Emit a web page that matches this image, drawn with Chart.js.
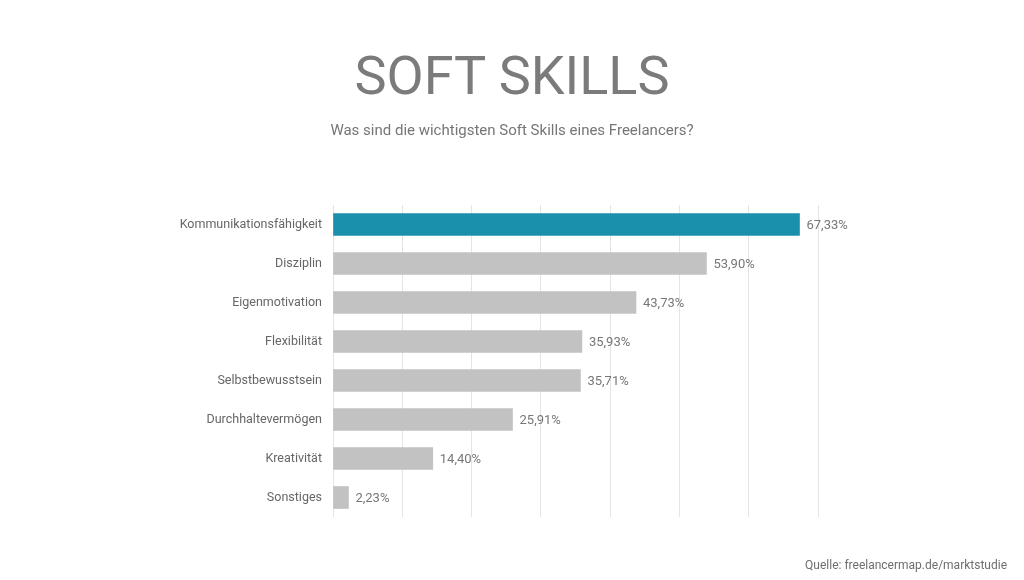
<!DOCTYPE html>
<html>
<head>
<meta charset="utf-8">
<script src="https://cdn.jsdelivr.net/npm/chart.js@4/dist/chart.umd.min.js"></script>
<style>
    html, body { margin: 0; padding: 0; background: #fff; }
    #wrap { position: relative; width: 1024px; height: 580px; font-family: Roboto, sans-serif; }
    #title { position: absolute; left: 0; width: 1024px; top: 49px; text-align: center;
        font-size: 54px; line-height: 54px; color: #7b7b7b; }
    #subtitle { position: absolute; left: 0; width: 1024px; top: 123px; text-align: center;
        font-size: 15px; line-height: 15px; color: #767676; }
    #source { position: absolute; right: 17px; top: 559px; font-size: 12px; line-height: 12px; color: #6e6e6e; }
    #chart { position: absolute; left: 0; top: 0; }
</style>
</head>
<body>
<div id="wrap">
    <canvas id="chart" width="1024" height="580"></canvas>
    <div id="title">SOFT SKILLS</div>
    <div id="subtitle">Was sind die wichtigsten Soft Skills eines Freelancers?</div>
    <div id="source">Quelle: freelancermap.de/marktstudie</div>
</div>
<script>
'use strict';

const skills = ['Kommunikationsfähigkeit', 'Disziplin', 'Eigenmotivation', 'Flexibilität',
    'Selbstbewusstsein', 'Durchhaltevermögen', 'Kreativität', 'Sonstiges'];
const shares = [67.33, 53.90, 43.73, 35.93, 35.71, 25.91, 14.40, 2.23];
const axisMax = 70;

// first bar highlighted, rest gray
const barColors = shares.map((v, i) => i === 0 ? '#1b90ac' : '#c2c2c2');

const valueLabels = {
    id: 'valueLabels',
    afterDatasetsDraw(chart) {
        const ctx = chart.ctx;
        const meta = chart.getDatasetMeta(0);
        ctx.save();
        ctx.font = '13px Roboto, sans-serif';
        ctx.fillStyle = '#777777';
        ctx.textAlign = 'left';
        ctx.textBaseline = 'middle';
        meta.data.forEach((bar, i) => {
            let txt = shares[i].toFixed(2).replace('.', ',') + '%';
            ctx.fillText(txt, bar.x + 7, bar.y + 1);
        });
        ctx.restore();
    }
};

let ctx = document.getElementById('chart').getContext('2d');
window.myBar = new Chart(ctx, {
    type: 'bar',
    data: {
        labels: skills,
        datasets: [{
            data: shares,
            backgroundColor: barColors,
            barThickness: 22,
        }],
    },
    options: {
        indexAxis: 'y',
        responsive: false,
        animation: false,
        layout: {
            padding: { top: 205, right: 206, bottom: 63, left: 0 },
        },
        plugins: {
            legend: { display: false },
            tooltip: { enabled: false },
        },
        scales: {
            x: {
                min: 0,
                max: axisMax,
                ticks: { stepSize: 10, display: false },
                grid: { color: '#e4e4e4', drawTicks: false, lineWidth: 1 },
                border: { display: false },
            },
            y: {
                afterFit(scale) { scale.width = 333; },
                grid: { display: false, drawTicks: false },
                border: { display: false },
                ticks: {
                    padding: 11,
                    color: '#666666',
                    font: { family: 'Roboto, sans-serif', size: 12.5 },
                },
            },
        },
    },
    plugins: [valueLabels],
});
</script>
</body>
</html>
